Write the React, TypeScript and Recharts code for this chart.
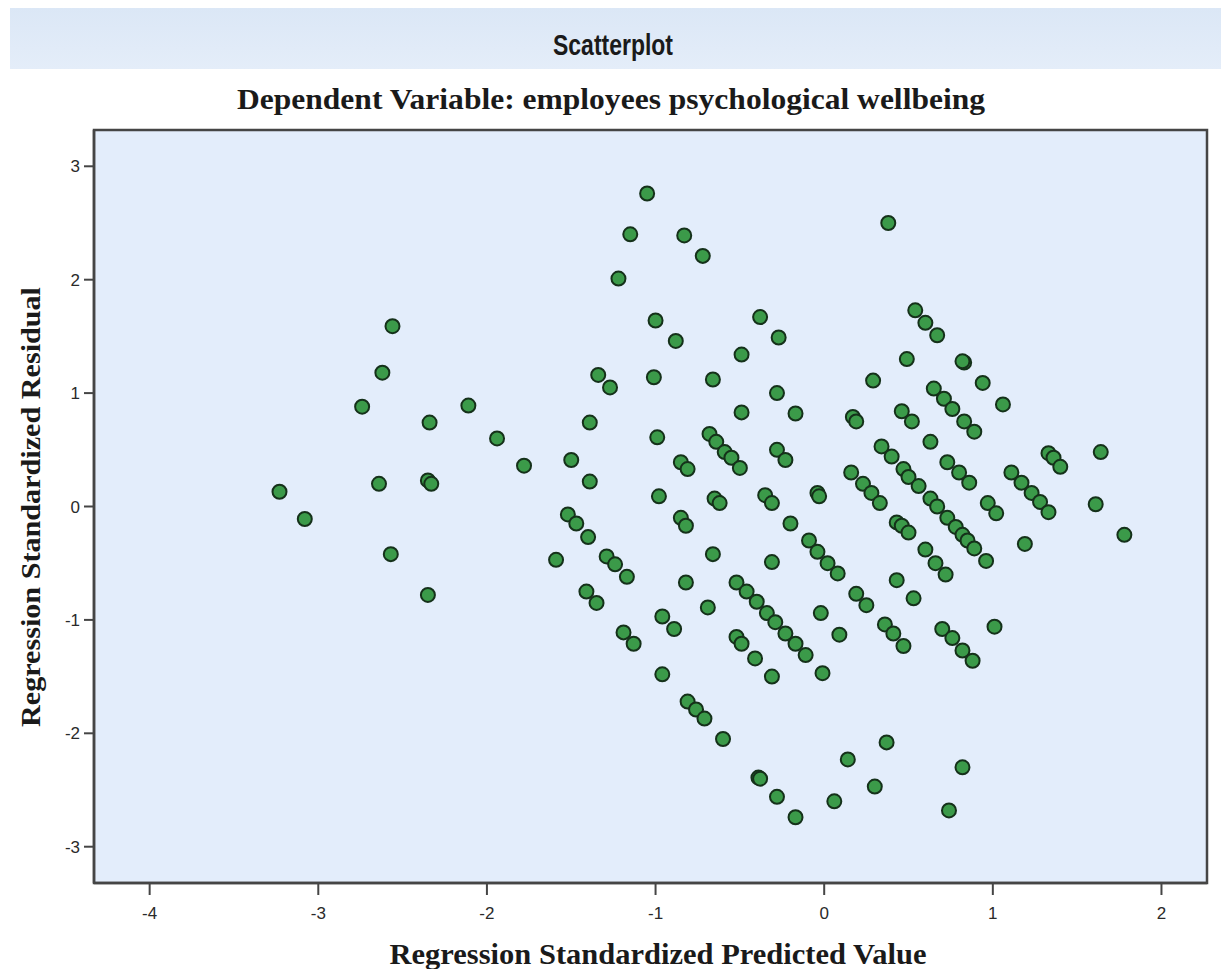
import React from 'react';
import { ScatterChart, Scatter, XAxis, YAxis, CartesianGrid, ReferenceArea } from 'recharts';

const predicted: number[] = [
  -3.23, -3.08, -2.56, -2.62, -2.74, -2.64, -2.57, -2.34, -2.35, -2.33, -2.35, -2.11, -1.94, -1.78,
  -1.34, -1.27, -1.39, -1.5, -1.39, -1.52, -1.47, -1.4, -1.59, -1.41, -1.35, -1.29, -1.24, -1.17, -1.19, -1.13,
  -1.22, -1.15, -1.05, -0.83, -0.72, -1.0, -0.88, -0.38, -0.27, -0.49, -1.01, -0.66, -0.28, -0.49, -0.17,
  -0.99, -0.68, -0.64, -0.59, -0.55, -0.5, -0.85, -0.81, -0.28, -0.23, -0.98, -0.65, -0.62, -0.35, -0.31,
  -0.04, -0.03, -0.85, -0.82, -0.2, -0.09, -0.04, 0.02, 0.08, -0.66, -0.31, -0.82, -0.69, -0.96, -0.89,
  -0.52, -0.46, -0.4, -0.34, -0.29, -0.23, -0.17, -0.11, -0.52, -0.49, -0.41, -0.31, -0.02, 0.09, -0.01,
  -0.96, -0.81, -0.76, -0.71, -0.6, -0.39, -0.38, -0.28, -0.17, 0.06, 0.14, 0.3, 0.37, 0.74, 0.82,
  0.38, 0.54, 0.6, 0.67, 0.49, 0.83, 0.82, 0.29, 0.94, 0.65, 0.71, 0.76, 0.83, 0.89, 1.06, 0.17, 0.19,
  0.46, 0.52, 0.63, 0.34, 0.4, 0.47, 0.5, 0.56, 0.73, 0.8, 0.86, 1.33, 1.36, 1.4, 1.64, 0.16, 0.23, 0.28,
  0.33, 1.11, 1.17, 1.23, 1.28, 1.33, 0.97, 1.02, 1.61, 1.78, 0.63, 0.67, 0.73, 0.78, 0.82, 0.85, 0.89,
  0.96, 0.43, 0.46, 0.5, 1.19, 0.6, 0.66, 0.72, 0.43, 0.53, 0.19, 0.25, 0.36, 0.41, 0.47, 0.7, 0.76, 0.82,
  0.88, 1.01,
];

const residual: number[] = [
  0.13, -0.11, 1.59, 1.18, 0.88, 0.2, -0.42, 0.74, 0.23, 0.2, -0.78, 0.89, 0.6, 0.36,
  1.16, 1.05, 0.74, 0.41, 0.22, -0.07, -0.15, -0.27, -0.47, -0.75, -0.85, -0.44, -0.51, -0.62, -1.11, -1.21,
  2.01, 2.4, 2.76, 2.39, 2.21, 1.64, 1.46, 1.67, 1.49, 1.34, 1.14, 1.12, 1.0, 0.83, 0.82,
  0.61, 0.64, 0.57, 0.48, 0.43, 0.34, 0.39, 0.33, 0.5, 0.41, 0.09, 0.07, 0.03, 0.1, 0.03,
  0.12, 0.09, -0.1, -0.17, -0.15, -0.3, -0.4, -0.5, -0.59, -0.42, -0.49, -0.67, -0.89, -0.97, -1.08,
  -0.67, -0.75, -0.84, -0.94, -1.02, -1.12, -1.21, -1.31, -1.15, -1.21, -1.34, -1.5, -0.94, -1.13, -1.47,
  -1.48, -1.72, -1.79, -1.87, -2.05, -2.39, -2.4, -2.56, -2.74, -2.6, -2.23, -2.47, -2.08, -2.68, -2.3,
  2.5, 1.73, 1.62, 1.51, 1.3, 1.27, 1.28, 1.11, 1.09, 1.04, 0.95, 0.86, 0.75, 0.66, 0.9, 0.79, 0.75,
  0.84, 0.75, 0.57, 0.53, 0.44, 0.33, 0.26, 0.18, 0.39, 0.3, 0.21, 0.47, 0.43, 0.35, 0.48, 0.3, 0.2, 0.12,
  0.03, 0.3, 0.21, 0.12, 0.04, -0.05, 0.03, -0.06, 0.02, -0.25, 0.07, 0.0, -0.1, -0.18, -0.25, -0.3, -0.37,
  -0.48, -0.14, -0.17, -0.23, -0.33, -0.38, -0.5, -0.6, -0.65, -0.81, -0.77, -0.87, -1.04, -1.12, -1.23, -1.08, -1.16, -1.27,
  -1.36, -1.06,
];

const xTicks: number[] = [-4, -3, -2, -1, 0, 1, 2];
const yTicks: number[] = [-3, -2, -1, 0, 1, 2, 3];
const xDomain: [number, number] = [-4.33, 2.27];
const yDomain: [number, number] = [-3.32, 3.32];

const data = predicted.map((x, i) => ({ x, y: residual[i] }));

const Dot = (props: any) => {
  const { cx, cy } = props;
  if (cx == null || cy == null) return null;
  return <circle cx={cx} cy={cy} r={7} fill="#3b9a49" stroke="#15311a" strokeWidth={2} />;
};

const tickFont = { fontSize: 17, fill: '#2a2a2a', fontFamily: '"Liberation Sans", Arial, sans-serif' };

export default function App() {
  return (
    <div style={{ position: 'absolute', left: 0, top: 0, width: 1221, height: 969, background: '#ffffff' }}>
      <div
        style={{
          position: 'absolute',
          left: 10,
          top: 8,
          width: 1211,
          height: 61,
          background: 'linear-gradient(#dbe7f6, #e4edf9)',
        }}
      />
      <div style={{ position: 'absolute', left: 0, top: 0 }}>
        <ScatterChart width={1221} height={969} margin={{ top: 130, right: 14, left: 0, bottom: 0 }}>
          <CartesianGrid horizontal={false} vertical={false} fill="#e3edfb" />
          <XAxis
            type="number"
            dataKey="x"
            domain={xDomain}
            ticks={xTicks}
            allowDataOverflow
            height={86}
            tickSize={12}
            tickMargin={12}
            axisLine={{ stroke: '#454545', strokeWidth: 2.5 }}
            tickLine={{ stroke: '#454545', strokeWidth: 2 }}
            tick={tickFont}
          />
          <YAxis
            type="number"
            dataKey="y"
            domain={yDomain}
            ticks={yTicks}
            allowDataOverflow
            width={94}
            tickSize={10}
            tickMargin={4}
            axisLine={{ stroke: '#454545', strokeWidth: 2.5 }}
            tickLine={{ stroke: '#454545', strokeWidth: 2 }}
            tick={tickFont}
          />
          <ReferenceArea
            x1={xDomain[0]}
            x2={xDomain[1]}
            y1={yDomain[0]}
            y2={yDomain[1]}
            fill="none"
            stroke="#454545"
            strokeWidth={2.5}
            ifOverflow="visible"
          />
          <Scatter data={data} shape={Dot} isAnimationActive={false} />
        </ScatterChart>
      </div>
      <svg
        width={1221}
        height={969}
        style={{ position: 'absolute', left: 0, top: 0, pointerEvents: 'none' }}
      >
        <text
          x={613}
          y={55}
          textAnchor="middle"
          fontFamily='"Liberation Sans", Arial, sans-serif'
          fontWeight="bold"
          fontSize={30}
          fill="#1a1a1a"
          textLength={120}
          lengthAdjust="spacingAndGlyphs"
        >
          Scatterplot
        </text>
        <text
          x={611}
          y={109}
          textAnchor="middle"
          fontFamily='"Liberation Serif", "Times New Roman", serif'
          fontWeight="bold"
          fontSize={29}
          fill="#1a1a1a"
          textLength={748}
          lengthAdjust="spacingAndGlyphs"
        >
          Dependent Variable: employees psychological wellbeing
        </text>
        <text
          x={658}
          y={964}
          textAnchor="middle"
          fontFamily='"Liberation Serif", "Times New Roman", serif'
          fontWeight="bold"
          fontSize={29}
          fill="#1a1a1a"
          textLength={537}
          lengthAdjust="spacingAndGlyphs"
        >
          Regression Standardized Predicted Value
        </text>
        <text
          x={40}
          y={507}
          transform="rotate(-90 40 507)"
          textAnchor="middle"
          fontFamily='"Liberation Serif", "Times New Roman", serif'
          fontWeight="bold"
          fontSize={28}
          fill="#1a1a1a"
          textLength={440}
          lengthAdjust="spacingAndGlyphs"
        >
          Regression Standardized Residual
        </text>
      </svg>
    </div>
  );
}
